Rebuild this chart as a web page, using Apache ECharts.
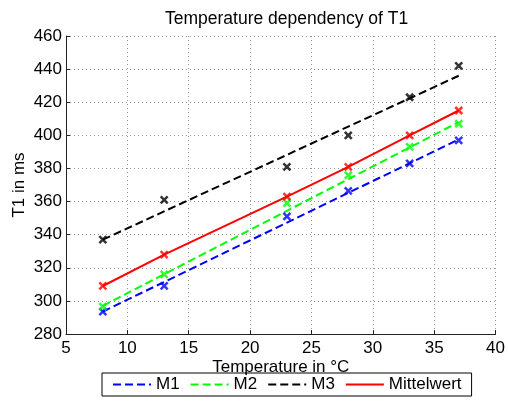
<!DOCTYPE html>
<html>
<head>
<meta charset="utf-8">
<script src="https://cdn.jsdelivr.net/npm/echarts@6/dist/echarts.min.js"></script>
<style>
  html, body { margin: 0; padding: 0; background: #fff; }
  #chart { width: 508px; height: 403px; }
</style>
</head>
<body>
<div id="chart"></div>
<script>
// Measured T1 values (ms) at each temperature (°C)
const temps = [8, 13, 23, 28, 33, 37];
const m1 = [293.5, 309, 351, 366.5, 383, 397];
const m2 = [296.5, 316, 359, 376, 393, 407];
const m3 = [337, 361, 381, 400, 423, 442];
const mittelwert = [309, 328, 363, 381, 400, 415];

// Linear fit lines: values at the ends of the temperature range
const fitTemps = [8, 37];
const m1Fit = [293.5, 397.5];
const m2Fit = [297, 408];
const m3Fit = [337, 436];

const xTicks = { min: 5, max: 40, step: 5 };
const yTicks = { min: 280, max: 460, step: 20 };

const FONT = 'Liberation Sans, Arial, sans-serif';
const CROSS = 'path://M0,0L10,10M10,0L0,10';
const DASH = [8, 4];

const pairs = (xs, ys) => xs.map((x, i) => [x, ys[i]]);

function fitLine(name, xs, ys, color) {
  return {
    name, type: 'line', data: pairs(xs, ys),
    symbol: 'none', z: 2, animation: false,
    lineStyle: { color, width: 2, type: DASH },
    itemStyle: { color }
  };
}
function markers(name, xs, ys, color) {
  return {
    name, type: 'scatter', data: pairs(xs, ys),
    symbol: CROSS, symbolSize: 7, z: 4, animation: false,
    itemStyle: { color, borderColor: color, borderWidth: 2.5 }
  };
}

const chart = echarts.init(document.getElementById('chart'), null, { renderer: 'canvas' });
chart.setOption({
  backgroundColor: '#fff',
  animation: false,
  textStyle: { fontFamily: FONT },
  title: {
    text: 'Temperature dependency of T1',
    left: 160, top: 5,
    textStyle: { fontFamily: FONT, fontSize: 17.5, fontWeight: 'normal', color: '#000' }
  },
  grid: { left: 66, right: 9, top: 36, bottom: 69 },
  legend: {
    data: ['M1', 'M2', 'M3', 'Mittelwert'],
    left: 102, top: 373,
    orient: 'horizontal',
    borderColor: '#000', borderWidth: 1,
    padding: [3, 10, 3, 10],
    itemWidth: 38, itemHeight: 14, itemGap: 10,
    // line-only keys: the key symbol is hidden
    itemStyle: { color: 'rgba(0,0,0,0)', borderColor: 'rgba(0,0,0,0)', borderWidth: 0 },
    textStyle: { fontFamily: FONT, fontSize: 17, color: '#000' }
  },
  xAxis: {
    type: 'value', min: xTicks.min, max: xTicks.max, interval: xTicks.step,
    name: 'Temperature in °C', nameLocation: 'middle', nameGap: 25, nameMoveOverlap: false,
    nameTextStyle: { fontFamily: FONT, fontSize: 17, color: '#000' },
    axisLine: { show: true, lineStyle: { color: '#222', width: 1 } },
    axisTick: { show: true, inside: true, length: 4, lineStyle: { color: '#222' } },
    axisLabel: { fontFamily: FONT, fontSize: 17, color: '#000', margin: 6 },
    splitLine: { show: true, lineStyle: { color: '#999', width: 1, type: [1, 3] } }
  },
  yAxis: {
    type: 'value', min: yTicks.min, max: yTicks.max, interval: yTicks.step,
    name: 'T1 in ms', nameLocation: 'middle', nameGap: 38, nameMoveOverlap: false,
    nameTextStyle: { fontFamily: FONT, fontSize: 17, color: '#000' },
    axisLine: { show: true, lineStyle: { color: '#222', width: 1 } },
    axisTick: { show: true, inside: true, length: 4, lineStyle: { color: '#222' } },
    axisLabel: { fontFamily: FONT, fontSize: 17, color: '#000', margin: 4 },
    splitLine: { show: true, lineStyle: { color: '#999', width: 1, type: [1, 3] } }
  },
  series: [
    fitLine('M1', fitTemps, m1Fit, '#0000ff'),
    fitLine('M2', fitTemps, m2Fit, '#00ff00'),
    fitLine('M3', fitTemps, m3Fit, '#000000'),
    {
      name: 'Mittelwert', type: 'line', data: pairs(temps, mittelwert),
      symbol: 'none', z: 3, animation: false,
      lineStyle: { color: '#ff0000', width: 2, type: 'solid' },
      itemStyle: { color: '#ff0000' }
    },
    markers('M1 Messwerte', temps, m1, '#0000ff'),
    markers('M2 Messwerte', temps, m2, '#00ff00'),
    markers('M3 Messwerte', temps, m3, '#000000'),
    markers('Mittelwert Punkte', temps, mittelwert, '#ff0000')
  ]
});
</script>
</body>
</html>
